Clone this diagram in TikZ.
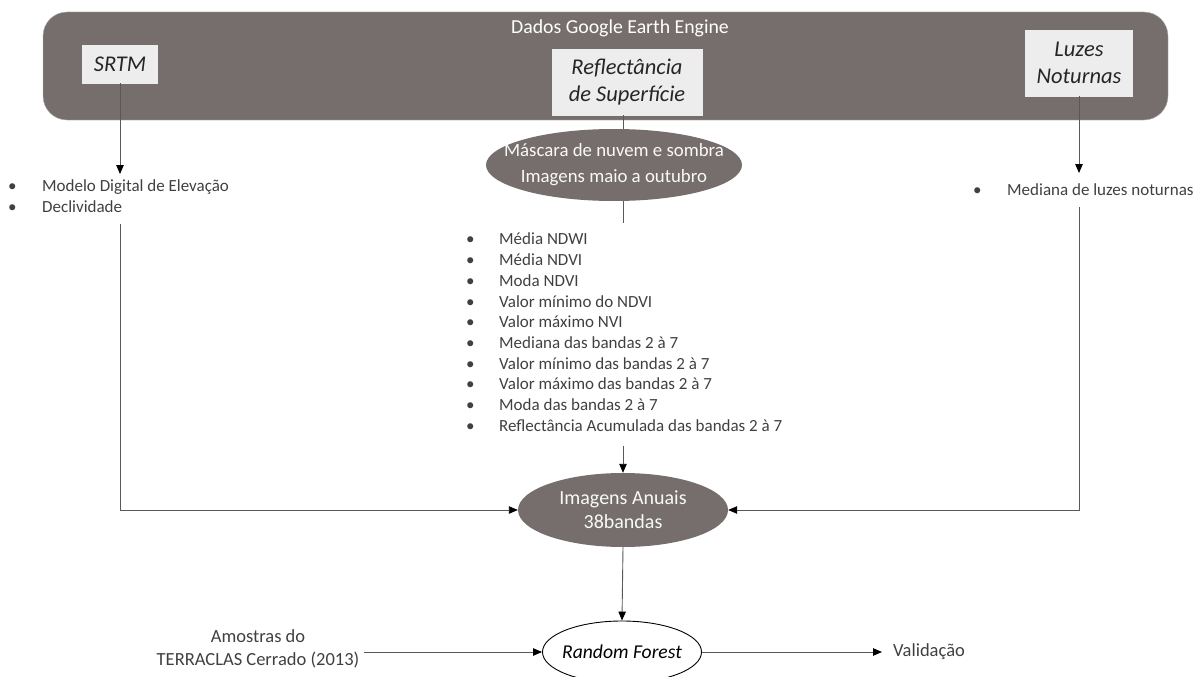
\documentclass[tikz,border=0pt]{standalone}
\usepackage{fontspec}
\setmainfont{Carlito}
\usetikzlibrary{shapes.geometric,arrows.meta,calc}
\definecolor{boxgray}{HTML}{766E6D}
\definecolor{lightbox}{HTML}{EDEDED}
\definecolor{txtgray}{HTML}{404040}
\definecolor{linegray}{HTML}{595959}
\begin{document}
\begin{tikzpicture}[x=1pt,y=-1pt,
  conn/.style={draw=linegray, line width=0.9pt},
  arr/.style={conn,-{Triangle[length=9pt,width=7.5pt,color=black]}},
  srcbox/.style={fill=lightbox, draw=white!85!gray, inner sep=0pt, font=\fontsize{22.5}{27}\selectfont\itshape, text=black!85, align=center},
  grayell/.style={ellipse, fill=boxgray, inner sep=0pt},
  elltxt/.style={text=white!95!gray, inner sep=0pt, align=center, font=\fontsize{18.8}{26}\selectfont},
  listtxt/.style={text=txtgray, font=\fontsize{17}{20.7}\selectfont, inner sep=0pt, align=left},
  plaintxt/.style={text=txtgray, font=\fontsize{18.5}{23}\selectfont, inner sep=0pt, align=center}
]
\useasboundingbox (0,0) rectangle (1203,677);
% top container
\node[draw=gray!60, fill=boxgray, rounded corners=24pt, minimum width=1125pt, minimum height=108pt, inner sep=0pt] (gee) at (605.5,66) {};
\node[text=white, font=\fontsize{19.8}{22}\selectfont, inner sep=0pt] (title) at (620,28) {Dados Google Earth Engine};
\node[srcbox, minimum width=75pt, minimum height=38pt] (srtm) at (120,64) {SRTM};
\node[srcbox, minimum width=150pt, minimum height=66pt] (refl) at (627,82) {Reflectância\\de Superfície};
\node[srcbox, minimum width=107pt, minimum height=66pt] (luz) at (1079,63) {Luzes\\Noturnas};
% mask ellipse
\node[grayell, minimum width=256pt, minimum height=72pt] (mask) at (614,165) {};
\node[elltxt] (masktxt) at (mask.center) {Máscara de nuvem e sombra\\Imagens maio a outubro};
% lists
\node[listtxt, anchor=west] (dem) at (8,198) {\begin{tabular}{@{}p{34pt}@{}l@{}}•&Modelo Digital de Elevação\\•&Declividade\end{tabular}};
\node[listtxt, anchor=west] (ntl) at (973,191) {\begin{tabular}{@{}p{34pt}@{}l@{}}•&Mediana de luzes noturnas\end{tabular}};
\node[listtxt, anchor=west] (feat) at (466,334) {\begin{tabular}{@{}p{33pt}@{}l@{}}
•&Média NDWI\\
•&Média NDVI\\
•&Moda NDVI\\
•&Valor mínimo do NDVI\\
•&Valor máximo NVI\\
•&Mediana das bandas 2 à 7\\
•&Valor mínimo das bandas 2 à 7\\
•&Valor máximo das bandas 2 à 7\\
•&Moda das bandas 2 à 7\\
•&Reflectância Acumulada das bandas 2 à 7\end{tabular}};
% annual image ellipse
\node[grayell, minimum width=210pt, minimum height=74pt] (img) at (623,510) {};
\node[elltxt, font=\fontsize{20}{24}\selectfont] (imgtxt) at (img.center) {Imagens Anuais\\38bandas};
% random forest
\node[ellipse, draw=black, line width=0.9pt, fill=white, minimum width=159pt, minimum height=62pt, inner sep=0pt] (rf) at (622,652) {};
\node[font=\fontsize{19.6}{22}\selectfont\itshape, text=black, inner sep=0pt] (rftxt) at (rf.center) {Random Forest};
\node[plaintxt] (amo) at (258,649) {Amostras do\\TERRACLAS Cerrado (2013)};
\node[plaintxt, anchor=west] (val) at (893,652) {Validação};
% helper coordinates
\coordinate (demtip) at (120,174);
\coordinate (demout) at (120,224);
\coordinate (ntltip) at (1079,173);
\coordinate (ntlout) at (1079,207);
\coordinate (maskout) at (623,223);
\coordinate (featout) at (623,446);
% connectors
\draw[arr] (srtm.south) -- (demtip);
\draw[arr] (demout) |- (img.west);
\draw[arr] (luz.south) -- (ntltip);
\draw[arr] (ntlout) |- (img.east);
\draw[conn] ([xshift=-4pt]refl.south) -- ([xshift=-4pt]refl.south |- mask.north);
\draw[conn] (mask.south -| maskout) -- (maskout);
\draw[arr] (featout) -- (img.north);
\draw[arr] (img.south) -- (rf.north);
\draw[arr] ($(amo.east |- rf.west)+(5,0)$) -- (rf.west);
\draw[arr] (rf.east) -- ([xshift=-11pt]val.west);
\end{tikzpicture}
\end{document}
